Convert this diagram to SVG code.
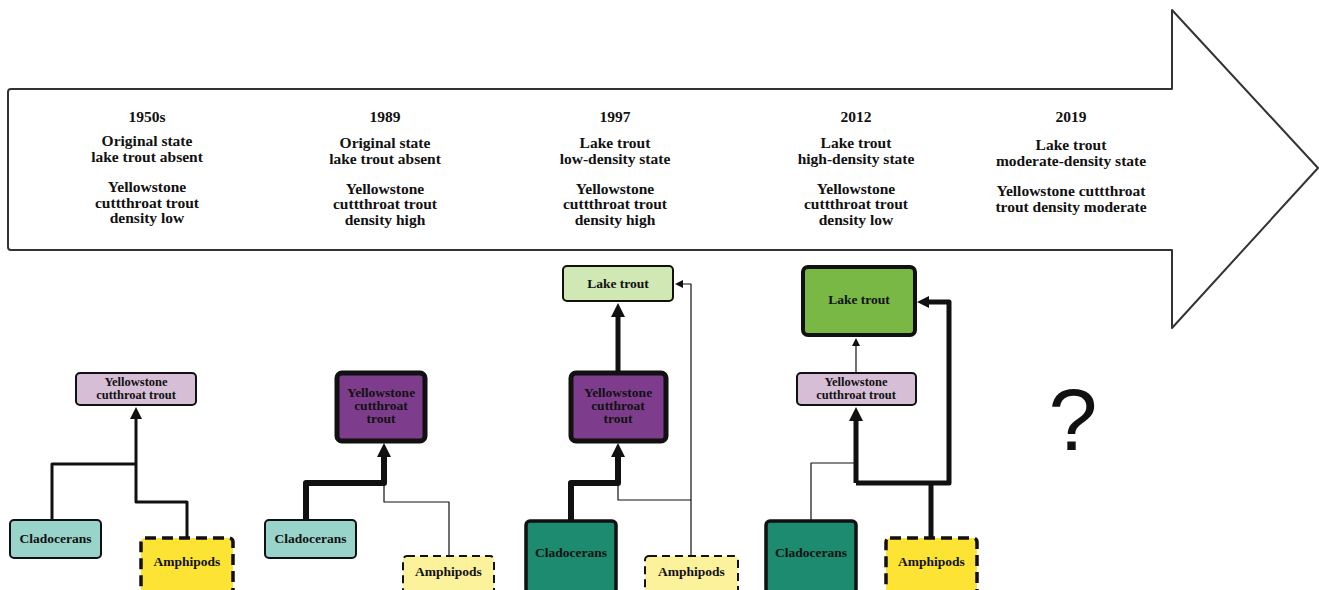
<svg xmlns="http://www.w3.org/2000/svg" width="1319" height="590" viewBox="0 0 1319 590">
<style>
.hdr{font-family:"Liberation Serif",serif;font-weight:bold;font-size:15.5px;fill:#111;text-anchor:middle}
.lbl{font-family:"Liberation Serif",serif;font-weight:bold;font-size:12.5px;fill:#111;text-anchor:middle}
.lblb{font-family:"Liberation Serif",serif;font-weight:bold;font-size:13.5px;fill:#111;text-anchor:middle}
.box{stroke:#111;stroke-width:2}
.boxk{stroke:#111;stroke-width:4}
.boxkk{stroke:#111;stroke-width:5}
.ycl{fill:#d6bfd6}
.ycd{fill:#7e3d8c}
.cll{fill:#99d4ca}
.cld{fill:#1c8b70}
.amy{fill:#fde333;stroke:#111;stroke-width:3.5;stroke-dasharray:11 6}
.aml{fill:#fdf29c;stroke:#111;stroke-width:2;stroke-dasharray:8 5}
.ltl{fill:#cfe8b4}
.ltd{fill:#7ab845}
.c{fill:none;stroke:#111;stroke-linejoin:round}
.w1{stroke-width:1.2}
.w3{stroke-width:3}
.w5{stroke-width:5}
.w6{stroke-width:6}
</style>
<defs>
<marker id="ahs" viewBox="0 0 10 10" refX="0" refY="5" markerUnits="userSpaceOnUse" markerWidth="10" markerHeight="8" orient="auto"><path d="M0,0 L10,5 L0,10 z" fill="#111"/></marker>
<marker id="ahm" viewBox="0 0 10 10" refX="0" refY="5" markerUnits="userSpaceOnUse" markerWidth="14" markerHeight="12" orient="auto"><path d="M0,0 L10,5 L0,10 z" fill="#111"/></marker>
<marker id="ahl" viewBox="0 0 10 10" refX="0" refY="5" markerUnits="userSpaceOnUse" markerWidth="16" markerHeight="14" orient="auto"><path d="M0,0 L10,5 L0,10 z" fill="#111"/></marker>
</defs>
<rect width="1319" height="590" fill="#fff"/>
<g id="timeline">
<path d="M11,89 H1172 V10 L1318,168 L1172,328 V250 H11 Q8,250 8,247 V92 Q8,89 11,89 Z" fill="#fff" stroke="#333" stroke-width="2" stroke-linejoin="round"/>
<text class="hdr"><tspan x="147" y="122">1950s</tspan><tspan x="147" y="146">Original state</tspan><tspan x="147" y="162">lake trout absent</tspan><tspan x="147" y="192">Yellowstone</tspan><tspan x="147" y="208">cuttthroat trout</tspan><tspan x="147" y="223">density low</tspan></text>
<text class="hdr"><tspan x="385" y="122">1989</tspan><tspan x="385" y="148">Original state</tspan><tspan x="385" y="164">lake trout absent</tspan><tspan x="385" y="194">Yellowstone</tspan><tspan x="385" y="209">cuttthroat trout</tspan><tspan x="385" y="225">density high</tspan></text>
<text class="hdr"><tspan x="615" y="122">1997</tspan><tspan x="615" y="148">Lake trout</tspan><tspan x="615" y="164">low-density state</tspan><tspan x="615" y="194">Yellowstone</tspan><tspan x="615" y="209">cuttthroat trout</tspan><tspan x="615" y="225">density high</tspan></text>
<text class="hdr"><tspan x="856" y="122">2012</tspan><tspan x="856" y="148">Lake trout</tspan><tspan x="856" y="164">high-density state</tspan><tspan x="856" y="194">Yellowstone</tspan><tspan x="856" y="209">cuttthroat trout</tspan><tspan x="856" y="225">density low</tspan></text>
<text class="hdr"><tspan x="1071" y="122">2019</tspan><tspan x="1071" y="150">Lake trout</tspan><tspan x="1071" y="166">moderate-density state</tspan><tspan x="1071" y="196">Yellowstone cuttthroat</tspan><tspan x="1071" y="212">trout density moderate</tspan></text>
</g>
<g id="connectors">
<path class="c w3" d="M52,520 V464 H136"/>
<path class="c w3" d="M187,537 V502 H136 V419" marker-end="url(#ahm)"/>
<path class="c w6" d="M306,520 V483 H384 V457" marker-end="url(#ahl)"/>
<path class="c w1" d="M449,556 V502 H384 V483"/>
<path class="c w5" d="M618,372 V317" marker-end="url(#ahl)"/>
<path class="c w6" d="M571,520 V483 H618 V457" marker-end="url(#ahl)"/>
<path class="c w1" d="M691,556 V500 H618 V483"/>
<path class="c w1" d="M691,500 V284 H683" marker-end="url(#ahs)"/>
<path class="c w1" d="M856,372 V346" marker-end="url(#ahs)"/>
<path class="c w1" d="M811,520 V463 H856"/>
<path class="c w5" d="M931,537 V483"/>
<path class="c w5" d="M856,483 V421" marker-end="url(#ahl)"/>
<path class="c w5" d="M856,483 H949 V302 H929" marker-end="url(#ahm)"/>
</g>
<g id="yct-1950s"><rect class="box ycl" x="76" y="373" width="120" height="32" rx="4"/><text class="lbl"><tspan x="136" y="386">Yellowstone</tspan><tspan x="136" y="399">cutthroat trout</tspan></text></g>
<g id="clad-1950s"><rect class="box cll" x="10" y="520" width="91" height="38" rx="4"/><text class="lblb" x="55.5" y="543">Cladocerans</text></g>
<g id="amph-1950s"><rect class="amy" x="141" y="538" width="92" height="56" rx="4"/><text class="lblb" x="187" y="566">Amphipods</text></g>
<g id="yct-1989"><rect class="boxkk ycd" x="337" y="373" width="88" height="68" rx="5"/><text class="lblb"><tspan x="381" y="397">Yellowstone</tspan><tspan x="381" y="410">cutthroat</tspan><tspan x="381" y="423">trout</tspan></text></g>
<g id="clad-1989"><rect class="box cll" x="265" y="520" width="91" height="38" rx="4"/><text class="lblb" x="310.5" y="543">Cladocerans</text></g>
<g id="amph-1989"><rect class="aml" x="403" y="556" width="91" height="38" rx="4"/><text class="lblb" x="448.5" y="576">Amphipods</text></g>
<g id="lt-1997"><rect class="box ltl" x="563" y="266" width="110" height="35" rx="4"/><text class="lblb" x="618" y="288">Lake trout</text></g>
<g id="yct-1997"><rect class="boxkk ycd" x="571" y="373" width="95" height="68" rx="5"/><text class="lblb"><tspan x="618" y="397">Yellowstone</tspan><tspan x="618" y="410">cutthroat</tspan><tspan x="618" y="423">trout</tspan></text></g>
<g id="clad-1997"><rect class="cld" x="526" y="521" width="90" height="72" rx="4" stroke="#111" stroke-width="3.5"/><text class="lblb" x="571" y="557">Cladocerans</text></g>
<g id="amph-1997"><rect class="aml" x="645" y="556" width="93" height="38" rx="4"/><text class="lblb" x="691.5" y="576">Amphipods</text></g>
<g id="lt-2012"><rect class="boxk ltd" x="803" y="267" width="112" height="68" rx="5"/><text class="lblb" x="859" y="304">Lake trout</text></g>
<g id="yct-2012"><rect class="box ycl" x="797" y="373" width="119" height="32" rx="4"/><text class="lbl"><tspan x="856" y="386">Yellowstone</tspan><tspan x="856" y="399">cutthroat trout</tspan></text></g>
<g id="clad-2012"><rect class="cld" x="766" y="521" width="90" height="72" rx="4" stroke="#111" stroke-width="3.5"/><text class="lblb" x="811" y="557">Cladocerans</text></g>
<g id="amph-2012"><rect class="amy" x="886" y="538" width="91" height="56" rx="4"/><text class="lblb" x="931.5" y="566">Amphipods</text></g>
<g id="unknown-2019"><text x="1073" y="450" font-family="Liberation Sans, sans-serif" font-size="88" fill="#111" text-anchor="middle">?</text></g>
</svg>
